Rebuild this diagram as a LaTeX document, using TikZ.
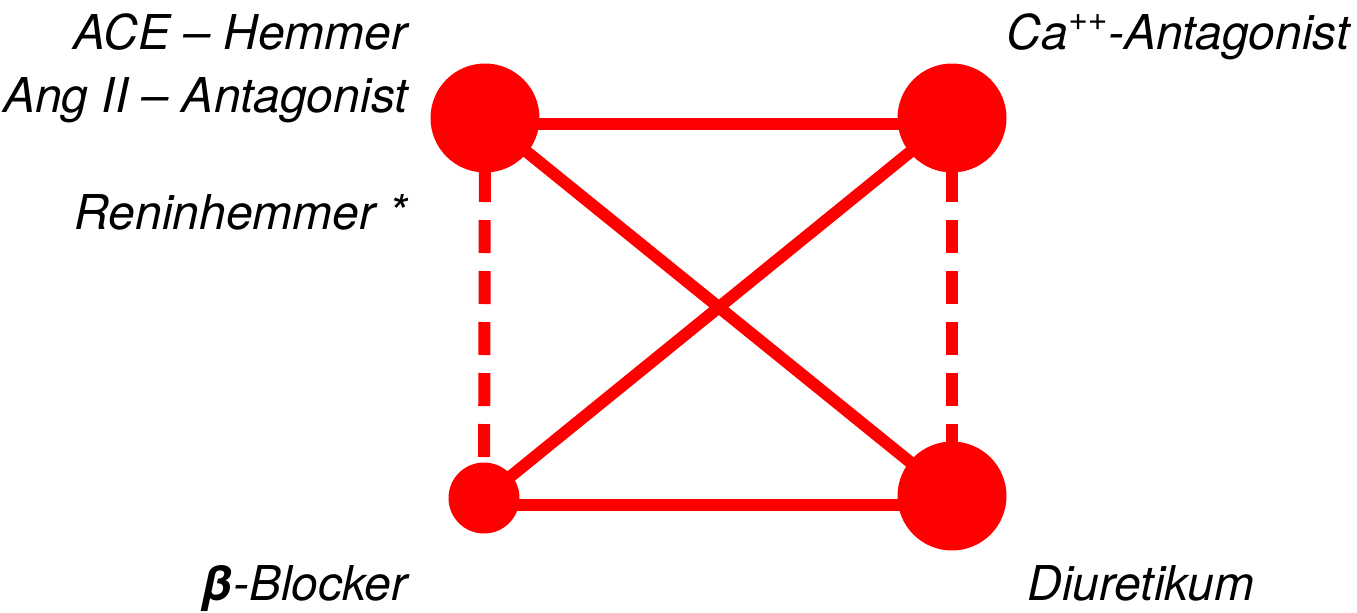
\documentclass[tikz,border=0pt]{standalone}
\usepackage{fontspec}
\setmainfont{TeX Gyre Heros}

\begin{document}
\begin{tikzpicture}[x=0.5pt,y=-0.5pt,
        drug/.style={circle, fill=red, inner sep=0pt, minimum size=54.5pt},
        link/.style={red, line width=6pt},
        weak/.style={link, dash pattern=on 16.5pt off 9pt},
        lbl/.style={inner sep=0pt, anchor=base east,
            font=\fontsize{24}{30}\selectfont\itshape}]
    \useasboundingbox (0,0) rectangle (1357,612);
    % the four drug classes
    \node[drug] (ace) at (485,118) {};
    \node[drug] (ca) at (952,118) {};
    \node[drug, minimum size=35.5pt] (beta) at (484,498) {};
    \node[drug] (diur) at (952,496) {};

    % combinations
    \draw[link] ([yshift=-3pt]ace.center) -- ([yshift=-3pt]ca.center);
    \draw[link] ([yshift=-3.5pt]beta.center) -- ([yshift=-4.5pt]diur.center);
    \draw[link] (ace.center) -- (diur.center);
    \draw[link] (ca.center) -- (beta.center);
    \draw[weak] (ace.center) -- (beta.center);
    \draw[weak] (ca.center) -- (diur.center);

    % labels
    \node[lbl] (acelbl) at (408,49) {ACE – Hemmer};
    \node[lbl] (anglbl) at (408,112) {Ang II – Antagonist};
    \node[lbl] (reninlbl) at (408,229) {Reninhemmer *};
    \node[lbl] (calbl) at (1350,49) {Ca\textsuperscript{++}-Antagonist};
    \node[lbl] (betalbl) at (408,600) {\textbf{β}-Blocker};
    \node[lbl, anchor=base west] (diurlbl) at (1027,600) {Diuretikum};
\end{tikzpicture}
\end{document}
